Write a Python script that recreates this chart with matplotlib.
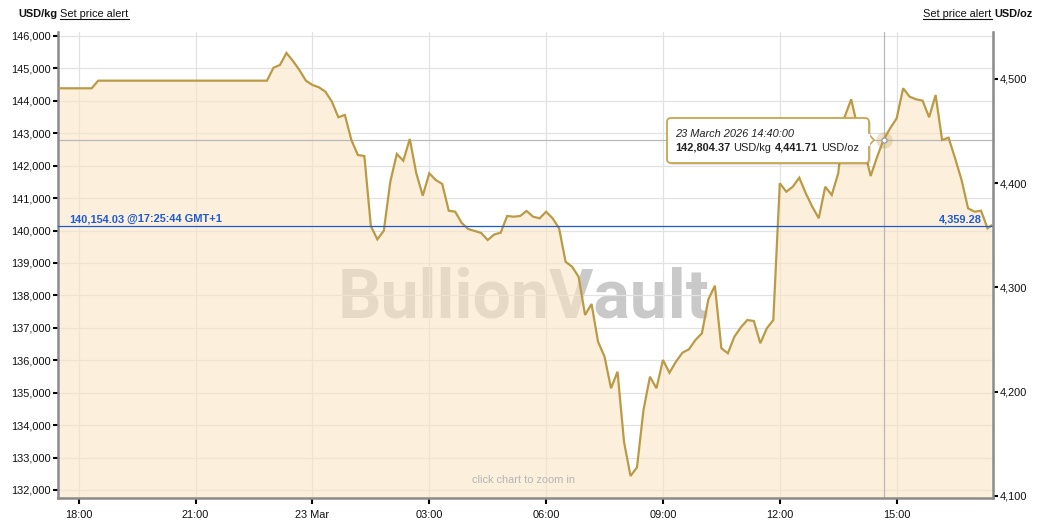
import matplotlib
matplotlib.use("Agg")
import matplotlib.pyplot as plt
import matplotlib.dates as mdates
from matplotlib.patches import FancyBboxPatch, Polygon
from matplotlib.lines import Line2D
from matplotlib.ticker import FuncFormatter, FixedLocator
from matplotlib.transforms import IdentityTransform
import pandas as pd

W, H = 1041, 530
plt.rcParams['font.family'] = ['Liberation Sans', 'DejaVu Sans']

# ---------------- data (USD/kg) ----------------
early_times = ["2026-03-22 17:30", "2026-03-22 18:20", "2026-03-22 18:30",
               "2026-03-22 22:50", "2026-03-22 23:00", "2026-03-22 23:10",
               "2026-03-22 23:20", "2026-03-22 23:30", "2026-03-22 23:40",
               "2026-03-22 23:50"]
early_values = [144387, 144387, 144622, 144622, 145022, 145106,
                145476, 145230, 144950, 144622]

day_start = "2026-03-23 00:00"   # 10-minute samples from here
day_values = [
    144489, 144418, 144282, 143974, 143493, 143564,   # 00:xx
    142793, 142330, 142299, 140140, 139730, 139995,   # 01:xx
    141507, 142361, 142154, 142823, 141766, 141075,   # 02:xx
    141766, 141559, 141436, 140612, 140581, 140233,   # 03:xx
    140048, 139986, 139925, 139709, 139878, 139934,   # 04:xx
    140449, 140427, 140449, 140603, 140427, 140378,   # 05:xx
    140581, 140378, 140069, 139039, 138885, 138577,   # 06:xx
    137396, 137735, 136572, 136110, 135135, 135647,   # 07:xx
    133488, 132430, 132698, 134466, 135493, 135135,   # 08:xx
    136008, 135616, 135955, 136233, 136338, 136625,   # 09:xx
    136831, 137880, 138299, 136369, 136215, 136726,   # 10:xx
    137016, 137241, 137210, 136523, 136985, 137241,   # 11:xx
    141457, 141198, 141352, 141630, 141149, 140736,   # 12:xx
    140378, 141352, 141096, 141766, 143511, 144048,   # 13:xx
    143163, 142484, 141682, 142278, 142804.37, 143153,  # 14:xx
    143462, 144387, 144128, 144048, 144005, 143493,   # 15:xx
    144180, 142793, 142864, 142228, 141559, 140686,   # 16:xx
    140581, 140612, 140069,                           # 17:00-17:20
]
last_time = "2026-03-23 17:25:44"
last_value = 140154.03
last_value_oz = 4359.28

hover_time = "2026-03-23 14:40:00"
hover_value = 142804.37
hover_value_oz = 4441.71

OZ_PER_KG = 32.1507466

xtick_times = ["2026-03-22 18:00", "2026-03-22 21:00", "2026-03-23 00:00",
               "2026-03-23 03:00", "2026-03-23 06:00", "2026-03-23 09:00",
               "2026-03-23 12:00", "2026-03-23 15:00"]
xtick_labels = ["18:00", "21:00", "23 Mar", "03:00", "06:00", "09:00", "12:00", "15:00"]
ytick_kg = [132000, 133000, 134000, 135000, 136000, 137000, 138000,
            139000, 140000, 141000, 142000, 143000, 144000, 145000, 146000]
ytick_oz = [4100, 4200, 4300, 4400, 4500]

times = (list(pd.to_datetime(early_times))
         + list(pd.date_range(day_start, periods=len(day_values), freq="10min"))
         + [pd.Timestamp(last_time)])
values = early_values + day_values + [last_value]

# ---------------- figure ----------------
fig = plt.figure(figsize=(W / 100, H / 100), dpi=100)
fig.patch.set_facecolor("white")
ax = fig.add_axes([58 / W, 1 - 498 / H, 935 / W, 466 / H])
ax.set_facecolor("white")

x_lo = pd.Timestamp("2026-03-22 17:28:05")
x_hi = pd.Timestamp("2026-03-23 17:28:25")
y_lo, y_hi = 131752, 146123
ax.set_xlim(x_lo, x_hi)
ax.set_ylim(y_lo, y_hi)

grid_c = "#e2e2e2"
ax.set_axisbelow(True)
ax.yaxis.set_major_locator(FixedLocator(ytick_kg))
ax.yaxis.set_major_formatter(FuncFormatter(lambda v, p: f"{v:,.0f}"))
ax.xaxis.set_major_locator(FixedLocator(mdates.date2num(pd.to_datetime(xtick_times))))
ax.set_xticklabels(xtick_labels)
ax.grid(True, color=grid_c, linewidth=0.9)

line_c = "#bb9a46"
ax.fill_between(times, values, y_lo, color="#fae6c6", alpha=0.6, linewidth=0, zorder=1)
ax.plot(times, values, color=line_c, linewidth=1.6, zorder=3, solid_joinstyle="miter")

# watermark (beneath the grid and the fill)
ax.text(523 / W, 1 - 317 / H, "BullionVault", transform=fig.transFigure,
        fontsize=49, fontweight="bold", family=["Roboto", "Liberation Sans"],
        color="#c9c9c9", ha="center", va="baseline", zorder=0.3)

# crosshair
cross_c = "#b8b8b8"
ax.axvline(pd.Timestamp(hover_time), color=cross_c, linewidth=0.9, zorder=2)
ax.axhline(hover_value, color=cross_c, linewidth=0.9, zorder=2)
ax.scatter([pd.Timestamp(hover_time)], [hover_value], s=140, color=line_c, alpha=0.28,
           linewidths=0, zorder=4)
ax.scatter([pd.Timestamp(hover_time)], [hover_value], s=14, facecolor="white",
           edgecolor="#9a9a9a", linewidths=0.9, zorder=5)

# current price line
blue = "#1d5bd6"
ax.axhline(last_value, color=blue, linewidth=0.9, zorder=4)

# spines and ticks
spine_c = "#8a8a8a"
ax.spines["top"].set_visible(False)
ax.spines["right"].set_visible(False)
for s in ["left", "bottom"]:
    ax.spines[s].set_color(spine_c)
    ax.spines[s].set_linewidth(1.8)
ax.tick_params(axis="y", direction="out", length=3.5, width=1.5, color="black",
               labelsize=7.9, pad=1.5, labelcolor="#111111")
ax.tick_params(axis="x", direction="out", length=4, width=1.5, color="black",
               labelsize=7.9, pad=5, labelcolor="#111111")

ax2 = ax.twinx()
ax2.set_ylim(y_lo / OZ_PER_KG, y_hi / OZ_PER_KG)
ax2.yaxis.set_major_locator(FixedLocator(ytick_oz))
ax2.yaxis.set_major_formatter(FuncFormatter(lambda v, p: f"{v:,.0f}"))
for s in ["top", "left", "bottom"]:
    ax2.spines[s].set_visible(False)
ax2.spines["right"].set_color(spine_c)
ax2.spines["right"].set_linewidth(1.8)
ax2.tick_params(axis="y", direction="out", length=3.5, width=1.5, color="black",
                labelsize=7.9, pad=1.5, labelcolor="#111111")

# ---------------- text helpers (pixel coordinates, y from top) ----------------
renderer = fig.canvas.get_renderer()
IDT = IdentityTransform()


def text_runs(x, y, parts, ha="left", size=7.9, gap=3.2):
    """parts: list of (string, weight, style, color, underline)."""
    arts = []
    widths = []
    for s, weight, style, color, ul in parts:
        t = fig.text(0, 0, s, fontsize=size, fontweight=weight, fontstyle=style,
                     color=color, va="baseline", ha="left", transform=IDT, zorder=20)
        bb = t.get_window_extent(renderer)
        arts.append((t, ul, color))
        widths.append(bb.width)
    total = sum(widths) + gap * (len(parts) - 1)
    cur = x if ha == "left" else x - total
    ydisp = H - y
    for (t, ul, color), w in zip(arts, widths):
        t.set_position((cur, ydisp))
        if ul:
            fig.add_artist(Line2D([cur, cur + w], [ydisp - 2, ydisp - 2], color=color,
                                  linewidth=0.8, transform=IDT, zorder=20))
        cur += w + gap


# header
text_runs(18, 17, [("USD/kg", "bold", "normal", "#111111", False),
                   ("Set price alert", "normal", "normal", "#111111", True)])
text_runs(1033, 17, [("Set price alert", "normal", "normal", "#111111", True),
                     ("USD/oz", "bold", "normal", "#111111", False)], ha="right")

# current price labels
text_runs(69, 222, [("140,154.03", "bold", "normal", blue, False),
                    ("@17:25:44 GMT+1", "bold", "normal", blue, False)])
text_runs(982, 222, [(f"{last_value_oz:,.2f}", "bold", "normal", blue, False)], ha="right")

# click hint
fig.text(523 / W, 1 - 483 / H, "click chart to zoom in", fontsize=7.9, color="#b5b5b5",
         ha="center", va="baseline")

# tooltip
bx0, by0, bx1, by1 = 667, 118, 869, 163
shadow = FancyBboxPatch((bx0 + 2, H - by1 - 2), bx1 - bx0, by1 - by0,
                        boxstyle="round,pad=0,rounding_size=4", transform=IDT,
                        facecolor="#000000", alpha=0.12, edgecolor="none", zorder=15)
fig.add_artist(shadow)
box = FancyBboxPatch((bx0, H - by1), bx1 - bx0, by1 - by0,
                     boxstyle="round,pad=0,rounding_size=4", transform=IDT,
                     facecolor="white", edgecolor="#c8a64e", linewidth=1.3, zorder=16)
fig.add_artist(box)
ptr = Polygon([(bx1 - 0.5, H - 134), (bx1 + 5, H - 140), (bx1 - 0.5, H - 146)],
              closed=False, transform=IDT, facecolor="white", edgecolor="#c8a64e",
              linewidth=1.2, zorder=17)
fig.add_artist(ptr)
fig.add_artist(Line2D([bx1 - 0.5, bx1 - 0.5], [H - 134.8, H - 145.2], color="white",
                      linewidth=1.6, transform=IDT, zorder=18))

text_runs(675, 137, [("23 March 2026 14:40:00", "normal", "italic", "#222222", False)])
text_runs(675, 151, [("142,804.37", "bold", "normal", "#222222", False),
                     ("USD/kg", "normal", "normal", "#222222", False),
                     (f"{hover_value_oz:,.2f}", "bold", "normal", "#222222", False),
                     ("USD/oz", "normal", "normal", "#222222", False)])

fig.savefig("out.png", dpi=100, facecolor="white")
